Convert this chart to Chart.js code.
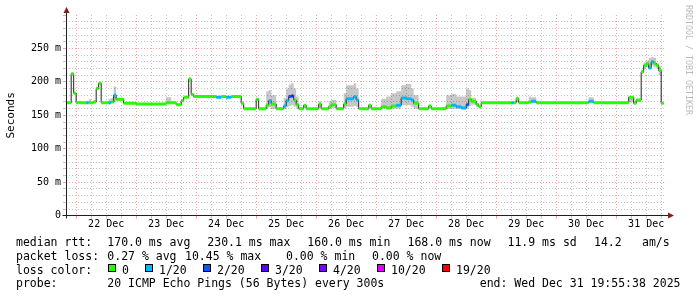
<!DOCTYPE html>
<html>
<head>
<meta charset="utf-8">
<script src="https://cdn.jsdelivr.net/npm/chart.js@4.4.1/dist/chart.umd.min.js"></script>
<style>
body { margin: 0; background: #fff; }
#wrap { position: relative; width: 697px; height: 297px; overflow: hidden;
        font-family: 'DejaVu Sans Mono', monospace; font-size: 11.5px; line-height: 14px; color: #000; }
#wrap canvas { position: absolute; left: 0; top: 0; }
.t { position: absolute; white-space: pre; }
.box { position: absolute; width: 6px; height: 6px; border: 1px solid #000; }
</style>
</head>
<body>
<div id="wrap"><canvas id="chart" width="697" height="297"></canvas></div>
<script>
'use strict';

// hours since 22 Dec 00:00 at which each median step begins
var stepHours = [-5, -2, -1, 0, 1, 2, 4, 5, 6, 7,
    8, 9, 10, 13, 14, 15, 16, 19, 24, 36,
    38, 40, 42, 43, 45, 46, 47, 56, 58, 60,
    62, 66, 67, 72, 73, 76, 77, 78, 80, 83,
    84, 85, 86, 87, 88, 89, 91, 92, 97, 98,
    101, 102, 104, 107, 108, 111, 112, 113, 117, 118,
    122, 124, 126, 128, 130, 132, 134, 135, 137, 141,
    142, 148, 150, 152, 154, 156, 157, 158, 160, 161,
    162, 174, 175, 176, 177, 181, 182, 184, 205, 207,
    221, 223, 224, 226, 227, 228, 229, 230, 231, 232,
    233, 234];
var endHour = 235;

// median rtt (ms)
var medianMs = [169, 212, 183, 169, 169, 169, 169, 169, 169, 170,
    190, 198, 169, 169, 170, 180, 174, 168, 167, 169,
    169, 166, 172, 177, 204, 181, 178, 177, 178, 177,
    178, 168, 160, 174, 160, 165, 172, 167, 160, 164,
    172, 178, 179, 173, 166, 160, 165, 160, 167, 160,
    163, 166, 160, 167, 175, 178, 173, 160, 165, 160,
    163, 161, 164, 165, 176, 175, 173, 168, 160, 164,
    160, 164, 165, 163, 161, 166, 174, 171, 166, 163,
    169, 169, 169, 175, 169, 170, 171, 169, 171, 169,
    177, 168, 173, 215, 225, 227, 221, 230, 228, 225,
    217, 168];

// index into lossColors
var lossIdx = [0, 0, 0, 0, 0, 0, 1, 0, 0, 0,
    0, 0, 0, 1, 0, 1, 0, 0, 0, 0,
    0, 0, 0, 0, 0, 0, 0, 1, 0, 1,
    0, 0, 0, 0, 0, 0, 1, 0, 0, 1,
    1, 2, 3, 0, 0, 0, 0, 0, 0, 0,
    0, 0, 0, 0, 1, 1, 1, 0, 0, 0,
    0, 0, 0, 1, 1, 1, 1, 0, 0, 0,
    0, 0, 1, 1, 1, 2, 0, 0, 0, 0,
    0, 1, 0, 0, 0, 0, 1, 0, 1, 0,
    0, 0, 0, 0, 0, 0, 1, 1, 0, 0,
    0, 0];

// smoke (spread of the 20 pings), ms
var smokeLowMs = [169, 211, 183, 169, 169, 169, 169, 169, 169, 169,
    188, 196, 169, 169, 169, 170, 172, 168, 167, 168,
    169, 166, 171, 177, 202, 180, 178, 177, 178, 177,
    178, 168, 160, 172, 160, 160, 162, 160, 160, 160,
    162, 164, 165, 163, 160, 160, 161, 160, 161, 160,
    160, 161, 160, 161, 163, 164, 162, 160, 161, 160,
    160, 160, 160, 160, 165, 165, 163, 160, 160, 161,
    160, 160, 160, 160, 160, 160, 164, 166, 163, 162,
    169, 169, 169, 170, 169, 169, 169, 169, 169, 169,
    170, 167, 170, 212, 220, 222, 218, 224, 222, 220,
    210, 168];
var smokeHighMs = [169, 213, 184, 169, 172, 169, 170, 174, 169, 173,
    193, 200, 169, 175, 176, 193, 176, 168, 167, 177,
    171, 166, 173, 177, 207, 182, 178, 178, 178, 178,
    178, 168, 160, 175, 160, 186, 188, 180, 160, 176,
    190, 196, 198, 190, 178, 160, 167, 160, 171, 160,
    171, 173, 160, 183, 195, 198, 190, 160, 167, 160,
    175, 178, 183, 186, 195, 197, 190, 180, 160, 166,
    160, 180, 182, 178, 178, 190, 188, 176, 168, 165,
    169, 170, 169, 178, 169, 178, 177, 169, 177, 169,
    179, 171, 174, 218, 229, 232, 236, 237, 236, 228,
    223, 168];

var lossColors = ['#26ff00', '#00b8ff', '#0059ff', '#5e00ff', '#7e00ff', '#dd00ff', '#ff0000'];
var lossLabels = ['0', '1/20', '2/20', '3/20', '4/20', '10/20', '19/20'];
var dayLabels = ['22 Dec', '23 Dec', '24 Dec', '25 Dec', '26 Dec', '27 Dec', '28 Dec', '29 Dec', '30 Dec', '31 Dec'];
var yLabels = ['0', '50 m', '100 m', '150 m', '200 m', '250 m'];

var axisStart = -(4 + 4 / 60 + 22 / 3600);   // Sun Dec 21 19:55:38
var axisEnd = 235 + 55 / 60 + 38 / 3600;     // Wed Dec 31 19:55:38

var MONO = 'DejaVu Sans Mono';
var minorGrid = '#c4c4c4';
var majorGrid = '#eea4a4';

function stepPoints(values) {
    var pts = stepHours.map(function(h, i) { return { x: h, y: values[i] }; });
    pts.push({ x: endHour, y: values[values.length - 1] });
    return pts;
}

// one horizontal piece per step so the loss colour has no vertical joins
var bandPoints = [];
stepHours.forEach(function(h, i) {
    var next = i + 1 < stepHours.length ? stepHours[i + 1] : endHour;
    bandPoints.push({ x: h, y: medianMs[i] }, { x: next, y: medianMs[i] }, { x: next, y: null });
});

var framePlugin = {
    id: 'frame',
    afterDraw: function(chart) {
        var ctx = chart.ctx;
        var a = chart.chartArea;
        var ax = Math.round(a.left) + 0.5;
        var ay = Math.floor(a.bottom) + 0.5;
        ctx.save();
        ctx.strokeStyle = '#1f1f1f';
        ctx.lineWidth = 1;
        ctx.beginPath();
        ctx.moveTo(ax, ay + 3);
        ctx.lineTo(ax, 12);
        ctx.moveTo(ax - 4, ay);
        ctx.lineTo(a.right + 4, ay);
        ctx.stroke();
        ctx.fillStyle = '#801f1f';
        ctx.beginPath();
        ctx.moveTo(ax - 3, 13);
        ctx.lineTo(ax + 3, 13);
        ctx.lineTo(ax, 7);
        ctx.closePath();
        ctx.fill();
        ctx.beginPath();
        ctx.moveTo(a.right + 2, ay - 3);
        ctx.lineTo(a.right + 2, ay + 3);
        ctx.lineTo(a.right + 8, ay);
        ctx.closePath();
        ctx.fill();

        ctx.translate(688, 5);
        ctx.rotate(Math.PI / 2);
        ctx.font = '8.3px "' + MONO + '"';
        ctx.fillStyle = '#bbbbbb';
        ctx.textBaseline = 'middle';
        ctx.textAlign = 'left';
        ctx.fillText('RRDTOOL / TOBI OETIKER', 0, 0);
        ctx.restore();
    }
};

new Chart(document.getElementById('chart').getContext('2d'), {
    type: 'line',
    data: {
        datasets: [{
            label: 'median (loss colour)',
            data: bandPoints,
            borderColor: lossColors[0],
            borderWidth: 3,
            borderCapStyle: 'butt',
            segment: {
                borderColor: function(c) { return lossColors[lossIdx[Math.floor(c.p0DataIndex / 3)]]; }
            },
            spanGaps: false,
            pointRadius: 0,
            clip: 0,
            order: 0
        }, {
            label: 'median rtt',
            data: stepPoints(medianMs),
            stepped: 'before',
            borderColor: '#202020',
            borderWidth: 1,
            pointRadius: 0,
            clip: 0,
            order: 1
        }, {
            label: 'smoke high',
            data: stepPoints(smokeHighMs),
            stepped: 'before',
            borderColor: 'rgba(0,0,0,0)',
            borderWidth: 1,
            backgroundColor: 'rgba(0, 0, 0, 0.22)',
            fill: { target: 3 },
            pointRadius: 0,
            clip: 0,
            order: 2
        }, {
            label: 'smoke low',
            data: stepPoints(smokeLowMs),
            stepped: 'before',
            borderColor: 'rgba(0,0,0,0)',
            borderWidth: 1,
            fill: false,
            pointRadius: 0,
            clip: 0,
            order: 3
        }]
    },
    options: {
        responsive: false,
        animation: false,
        layout: { padding: { top: 15, right: 31, bottom: 0, left: 0 } },
        plugins: {
            legend: { display: false },
            tooltip: { enabled: false }
        },
        scales: {
            x: {
                type: 'linear',
                min: axisStart,
                max: axisEnd,
                afterBuildTicks: function(s) {
                    var t = [];
                    for (var h = 0; h <= axisEnd; h += 6) t.push({ value: h });
                    s.ticks = t;
                },
                afterFit: function(s) { s.height = 297 - 215.7; },
                ticks: {
                    autoSkip: false,
                    maxRotation: 0,
                    padding: 0,
                    color: '#000',
                    font: { family: MONO, size: 10 },
                    callback: function(v) { return v % 24 === 12 ? dayLabels[(v - 12) / 24] : ''; }
                },
                grid: {
                    color: function(c) { return c.tick && c.tick.value % 24 === 0 ? majorGrid : minorGrid; },
                    tickColor: function(c) { return c.tick && c.tick.value % 24 === 0 ? majorGrid : minorGrid; },
                    tickLength: 3
                },
                border: { display: false, dash: [1, 2] }
            },
            y: {
                min: 0,
                max: 300,
                afterBuildTicks: function(s) {
                    var t = [];
                    for (var v = 0; v <= 300; v += 10) t.push({ value: v });
                    s.ticks = t;
                },
                afterFit: function(s) { s.width = 66; },
                ticks: {
                    autoSkip: false,
                    padding: 2,
                    color: '#000',
                    font: { family: MONO, size: 10 },
                    callback: function(v) { return v % 50 === 0 && v < 300 ? yLabels[v / 50] : ''; }
                },
                grid: {
                    color: function(c) {
                        var v = c.tick ? c.tick.value : -1;
                        if (v === 0 || v === 300) return 'rgba(0,0,0,0)';
                        return v % 50 === 0 ? majorGrid : minorGrid;
                    },
                    tickColor: function(c) {
                        var v = c.tick ? c.tick.value : -1;
                        return v % 50 === 0 ? majorGrid : minorGrid;
                    },
                    tickLength: 3
                },
                border: { display: false, dash: [1, 2] },
                title: {
                    display: true,
                    text: 'Seconds',
                    color: '#000',
                    font: { family: MONO, size: 11 },
                    padding: { top: 5, bottom: 0 }
                }
            }
        }
    },
    plugins: [framePlugin]
});

// legend lines under the graph
var wrap = document.getElementById('wrap');
function addText(x, top, str, right) {
    var d = document.createElement('div');
    d.className = 't';
    if (right) d.style.right = x + 'px'; else d.style.left = x + 'px';
    d.style.top = top + 'px';
    d.textContent = str;
    wrap.appendChild(d);
}

addText(16, 234.7, 'median rtt:');
addText(107.3, 234.7, '170.0 ms avg');
addText(207.3, 234.7, '230.1 ms max');
addText(307.3, 234.7, '160.0 ms min');
addText(407.5, 234.7, '168.0 ms now');
addText(507.5, 234.7, '11.9 ms sd');
addText(594, 234.7, '14.2');
addText(642, 234.7, 'am/s');

addText(16, 248.7, 'packet loss:');
addText(107.3, 248.7, '0.27 % avg');
addText(185, 248.7, '10.45 % max');
addText(286, 248.7, '0.00 % min');
addText(372, 248.7, '0.00 % now');

addText(16, 262.5, 'loss color:');
var boxX = [108, 145, 203, 261, 319, 377, 442];
lossLabels.forEach(function(lbl, i) {
    var b = document.createElement('div');
    b.className = 'box';
    b.style.left = boxX[i] + 'px';
    b.style.top = '264px';
    b.style.background = lossColors[i];
    wrap.appendChild(b);
    addText(boxX[i] + 14, 262.5, lbl);
});

addText(16, 276.3, 'probe:');
addText(107.3, 276.3, '20 ICMP Echo Pings (56 Bytes) every 300s');
addText(16.5, 276.3, 'end: Wed Dec 31 19:55:38 2025', true);
</script>
</body>
</html>
